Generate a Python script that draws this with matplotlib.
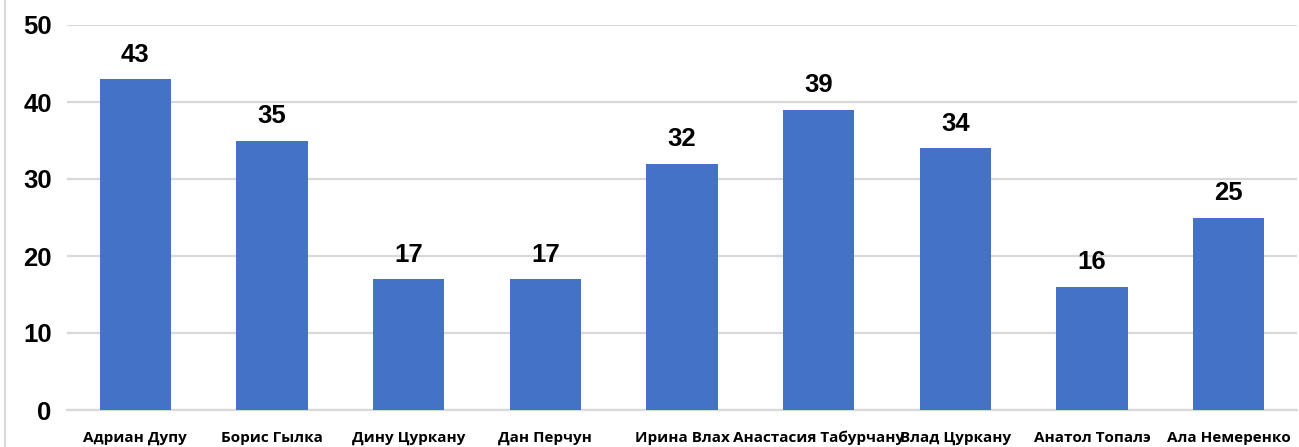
import numpy as np
from matplotlib import pyplot as plt

names = ['Адриан Дупу', 'Борис Гылка', 'Дину Цуркану', 'Дан Перчун', 'Ирина Влах',
         'Анастасия Табурчану', 'Влад Цуркану', 'Анатол Топалэ', 'Ала Немеренко']
values = [43, 35, 17, 17, 32, 39, 34, 16, 25]
y_ticks = [0, 10, 20, 30, 40, 50]

fig = plt.figure(figsize=(12.99, 4.47), dpi=100)
ax = fig.add_axes([67 / 1299, 1 - 410 / 447, (1297 - 67) / 1299, (410 - 25) / 447])

x = np.arange(len(names))
bars = ax.bar(x, values, width=0.52, color='#4472C4', zorder=3)

for xi, v in zip(x, values):
    ax.text(xi, v + 1.6, str(v), ha='center', va='bottom', fontsize=18.5,
            fontweight='bold', family='Liberation Sans')

ax.set_xlim(-0.5, len(names) - 0.5)
ax.set_ylim(0, 50)
ax.set_yticks(y_ticks)
ax.set_yticklabels([str(t) for t in y_ticks], fontsize=18.5, fontweight='bold',
                   family='Liberation Sans')
ax.set_xticks(x)
ax.set_xticklabels(names, fontsize=11, fontweight='bold', family='Open Sans')
ax.tick_params(axis='both', length=0)
ax.tick_params(axis='y', pad=11)
ax.tick_params(axis='x', pad=15)

ax.grid(axis='y', color='#d9d9d9', linewidth=1.6, zorder=0)
for side in ['top', 'right', 'left']:
    ax.spines[side].set_visible(False)
ax.spines['bottom'].set_color('#d9d9d9')
ax.spines['bottom'].set_linewidth(1.6)

# thin frame line on the left edge of the chart
fig.add_artist(plt.Line2D([4.5 / 1299, 4.5 / 1299], [0, 1], color='#d9d9d9', linewidth=1.5))

fig.savefig('out.png', dpi=100)
